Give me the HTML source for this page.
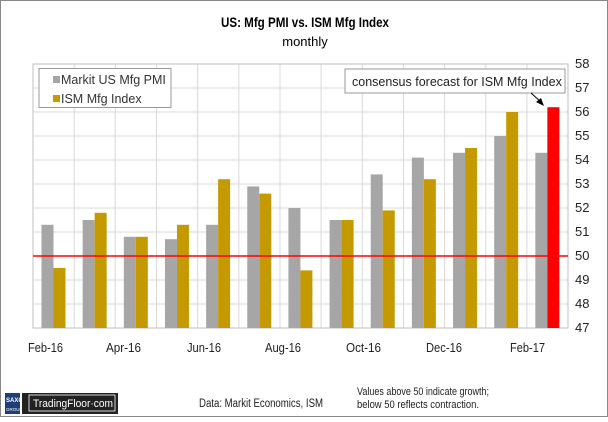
<!DOCTYPE html>
<html><head><style>
body{margin:0;background:#fff;}
svg text{font-family:"Liberation Sans",sans-serif;}
</style></head><body>
<svg width="608" height="417" xmlns="http://www.w3.org/2000/svg">
<rect x="0.5" y="0.5" width="607" height="416" fill="#fff" stroke="#888"/>
<text x="221" y="27" font-size="14" font-weight="bold" textLength="168" lengthAdjust="spacingAndGlyphs">US:  Mfg PMI vs. ISM Mfg Index</text>
<text x="305" y="46" text-anchor="middle" font-size="13">monthly</text>
<g stroke="#d9d9d9" stroke-width="1">
<line x1="33" y1="64" x2="568" y2="64"/><line x1="33" y1="88" x2="568" y2="88"/><line x1="33" y1="112" x2="568" y2="112"/><line x1="33" y1="136" x2="568" y2="136"/><line x1="33" y1="160" x2="568" y2="160"/><line x1="33" y1="184" x2="568" y2="184"/><line x1="33" y1="208" x2="568" y2="208"/><line x1="33" y1="232" x2="568" y2="232"/><line x1="33" y1="280" x2="568" y2="280"/><line x1="33" y1="304" x2="568" y2="304"/>
<line x1="74.2" y1="64" x2="74.2" y2="328"/><line x1="115.3" y1="64" x2="115.3" y2="328"/><line x1="156.5" y1="64" x2="156.5" y2="328"/><line x1="197.6" y1="64" x2="197.6" y2="328"/><line x1="238.8" y1="64" x2="238.8" y2="328"/><line x1="280" y1="64" x2="280" y2="328"/><line x1="321.1" y1="64" x2="321.1" y2="328"/><line x1="362.3" y1="64" x2="362.3" y2="328"/><line x1="403.5" y1="64" x2="403.5" y2="328"/><line x1="444.6" y1="64" x2="444.6" y2="328"/><line x1="485.8" y1="64" x2="485.8" y2="328"/><line x1="526.9" y1="64" x2="526.9" y2="328"/>
</g>
<rect x="33" y="64" width="535" height="264" fill="none" stroke="#bfbfbf"/>
<g id="bars"></g>
<line x1="33" y1="256" x2="568" y2="256" stroke="#f00" stroke-width="1.5"/>
<g font-size="13" fill="#222">
<text x="575" y="68">58</text><text x="575" y="92">57</text><text x="575" y="116">56</text><text x="575" y="140">55</text><text x="575" y="164">54</text><text x="575" y="188">53</text><text x="575" y="212">52</text><text x="575" y="236">51</text><text x="575" y="260">50</text><text x="575" y="284">49</text><text x="575" y="308">48</text><text x="575" y="332">47</text>
</g>
<g font-size="13" fill="#222" lengthAdjust="spacingAndGlyphs">
<text x="28" y="352" textLength="35" lengthAdjust="spacingAndGlyphs">Feb-16</text><text x="106" y="352" textLength="35" lengthAdjust="spacingAndGlyphs">Apr-16</text><text x="187" y="352" textLength="34" lengthAdjust="spacingAndGlyphs">Jun-16</text><text x="265" y="352" textLength="36" lengthAdjust="spacingAndGlyphs">Aug-16</text><text x="346" y="352" textLength="35" lengthAdjust="spacingAndGlyphs">Oct-16</text><text x="426" y="352" textLength="36" lengthAdjust="spacingAndGlyphs">Dec-16</text><text x="510" y="352" textLength="35" lengthAdjust="spacingAndGlyphs">Feb-17</text>
</g>
<rect x="39" y="68.5" width="132" height="39" fill="#fff" stroke="#999"/>
<rect x="53" y="76" width="7" height="7" fill="#a6a6a6"/>
<text x="61" y="84" font-size="12.5" fill="#333">Markit US Mfg PMI</text>
<rect x="53" y="95" width="7" height="7" fill="#c59a00"/>
<text x="61" y="103" font-size="12.5" fill="#333">ISM Mfg Index</text>
<rect x="345" y="69" width="220" height="24" fill="#fff" stroke="#999"/>
<text x="352" y="86" font-size="12.5" fill="#222">consensus forecast for ISM Mfg Index</text>
<line x1="531" y1="93" x2="541" y2="102" stroke="#000"/>
<polygon points="544,106 536,102 541,98" fill="#000"/>
<rect x="5" y="393" width="15" height="21" fill="#1f3d7a"/>
<text x="6" y="402" font-size="6" fill="#fff" font-weight="bold">SAXO</text>
<text x="6" y="411" font-size="4.5" fill="#fff">GROUP</text>
<rect x="22" y="393" width="96" height="21" fill="#222"/>
<rect x="29" y="395" width="86" height="16" fill="none" stroke="#fff" stroke-width="0.8"/>
<text x="33" y="407" font-size="11" fill="#fff" textLength="80" lengthAdjust="spacingAndGlyphs">TradingFloor·com</text>
<text x="199" y="407" font-size="11.5" fill="#222" textLength="124" lengthAdjust="spacingAndGlyphs">Data: Markit Economics,  ISM</text>
<text x="357" y="395" font-size="11" fill="#222" textLength="132" lengthAdjust="spacingAndGlyphs">Values above 50 indicate growth;</text>
<text x="357" y="408" font-size="11" fill="#222" textLength="122" lengthAdjust="spacingAndGlyphs">below 50 reflects contraction.</text>
</svg>
<script>
var g=[51.3,51.5,50.8,50.7,51.3,52.9,52.0,51.5,53.4,54.1,54.3,55.0,54.3];
var o=[49.5,51.8,50.8,51.3,53.2,52.6,49.4,51.5,51.9,53.2,54.5,56.0,56.2];
var s='',w=535/13;
for(var i=0;i<13;i++){var x=33+i*w;
var y1=328-(g[i]-47)*24,y2=328-(o[i]-47)*24;
s+='<rect x="'+(x+8.5)+'" y="'+y1+'" width="12" height="'+(328-y1)+'" fill="#a6a6a6"/>';
s+='<rect x="'+(x+20.5)+'" y="'+y2+'" width="12" height="'+(328-y2)+'" fill="'+(i==12?'#ff0000':'#c59a00')+'"/>';}
document.getElementById('bars').innerHTML=s;
</script>
</body></html>
